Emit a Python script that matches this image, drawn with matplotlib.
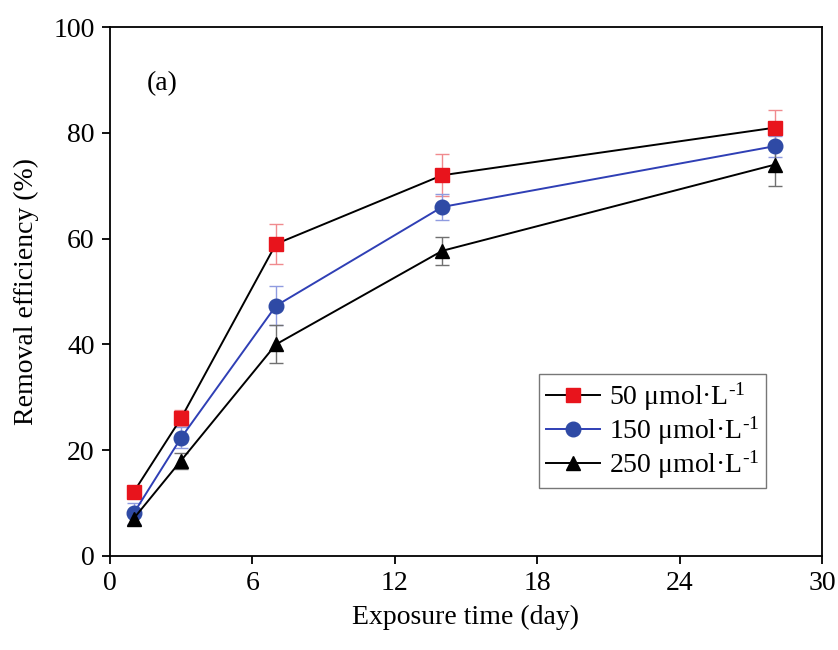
import matplotlib
matplotlib.use("Agg")
import matplotlib.pyplot as plt

plt.rcParams['font.family'] = ['Liberation Serif', 'DejaVu Serif']
plt.rcParams['mathtext.fontset'] = 'custom'
plt.rcParams['mathtext.rm'] = 'Liberation Serif'
plt.rcParams['mathtext.it'] = 'Liberation Serif:italic'
plt.rcParams['mathtext.default'] = 'regular'

days = [1, 3, 7, 14, 28]
labels = ["50 μmol·L$^{‐1}$", "150 μmol·L$^{‐1}$", "250 μmol·L$^{‐1}$"]
eff_50 = [12.0, 26.0, 59.0, 72.0, 81.0]
err_50 = [0.8, 1.5, 3.7, 4.0, 3.4]
eff_150 = [8.0, 22.3, 47.3, 66.0, 77.5]
err_150 = [2.0, 2.0, 3.7, 2.5, 2.0]
eff_250 = [7.0, 18.0, 40.0, 57.7, 74.0]
err_250 = [1.2, 1.5, 3.6, 2.7, 4.0]

fig = plt.figure(figsize=(8.38, 6.5), dpi=100)
ax = fig.add_axes([0.131, 0.145, 0.850, 0.813])

series = [
    (eff_50, err_50, 's', '#e8141c', 'black', '#f08a8e', 9.5),
    (eff_150, err_150, 'o', '#2f4aa5', '#2f3fb5', '#8f9be0', 10.5),
    (eff_250, err_250, '^', 'black', 'black', '#707070', 10),
]
for (vals, errs, mk, mc, lc, ec, ms), lab in zip(series, labels):
    ax.errorbar(days, vals, yerr=errs, fmt='none', ecolor=ec, elinewidth=1.0,
                capsize=5, capthick=1.0, zorder=2)
    ax.plot(days, vals, color=lc, lw=1.4, marker=mk, markersize=ms,
            markerfacecolor=mc, markeredgecolor=mc, label=lab, zorder=3)

ax.set_xlim(0, 30)
ax.set_ylim(0, 100)
ax.set_xticks([0, 6, 12, 18, 24, 30])
ax.set_yticks([0, 20, 40, 60, 80, 100])
ax.tick_params(axis='both', direction='out', labelsize=20, length=6, width=1.3, pad=5)
for s in ax.spines.values():
    s.set_linewidth(1.3)
ax.set_xlabel("Exposure time (day)", fontsize=20, labelpad=6)
ax.set_ylabel("Removal efficiency (%)", fontsize=20, labelpad=10)
ax.text(1.55, 88.2, "(a)", fontsize=20)

leg = ax.legend(loc='lower right', bbox_to_anchor=(0.921, 0.1285), fontsize=20,
                frameon=True, fancybox=False, edgecolor='#555555',
                handlelength=1.95, borderpad=0.25, labelspacing=0.05,
                handletextpad=0.3, borderaxespad=0)
leg.get_frame().set_linewidth(1.0)

fig.savefig("out.png", dpi=100)
